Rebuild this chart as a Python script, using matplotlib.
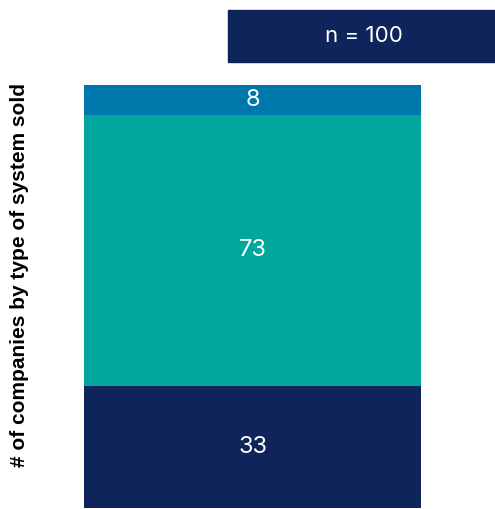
import matplotlib
matplotlib.use("Agg")
import matplotlib.pyplot as plt
from matplotlib.patches import Rectangle

# ---- data ----
segments = ["bottom", "middle", "top"]
values = [33, 73, 8]
colors = ["#0f245b", "#00a79d", "#0077aa"]
n_label = "n = 100"
ylabel = "# of companies by type of system sold"

plt.rcParams["font.family"] = ["Inter", "DejaVu Sans"]

W, H = 495, 509
fig = plt.figure(figsize=(W / 100, H / 100), dpi=100)
ax = fig.add_axes([84 / W, 1 / H, (421 - 84) / W, (508 - 85) / H])

bottom = 0
for v, c in zip(values, colors):
    ax.bar(0, v, bottom=bottom, width=1.0, color=c, edgecolor="none")
    ax.text(0, bottom + v / 2, str(v), ha="center", va="center",
            color="white", fontsize=17)
    bottom += v

ax.set_xlim(-0.5, 0.5)
ax.set_ylim(0, sum(values))
ax.axis("off")

# y label
fig.text(20 / W, 1 - 275 / H, ylabel, rotation=90, ha="center", va="center",
         fontsize=15, fontweight="bold", family=["Liberation Sans", "DejaVu Sans"])

# n box
fig.patches.append(Rectangle((228 / W, 1 - 62 / H), (495 - 228) / W, 52 / H,
                             transform=fig.transFigure, color="#0f245b"))
fig.text(364 / W, 1 - 36 / H, n_label, ha="center", va="center",
         color="white", fontsize=16)

fig.savefig("out.png", dpi=100)
